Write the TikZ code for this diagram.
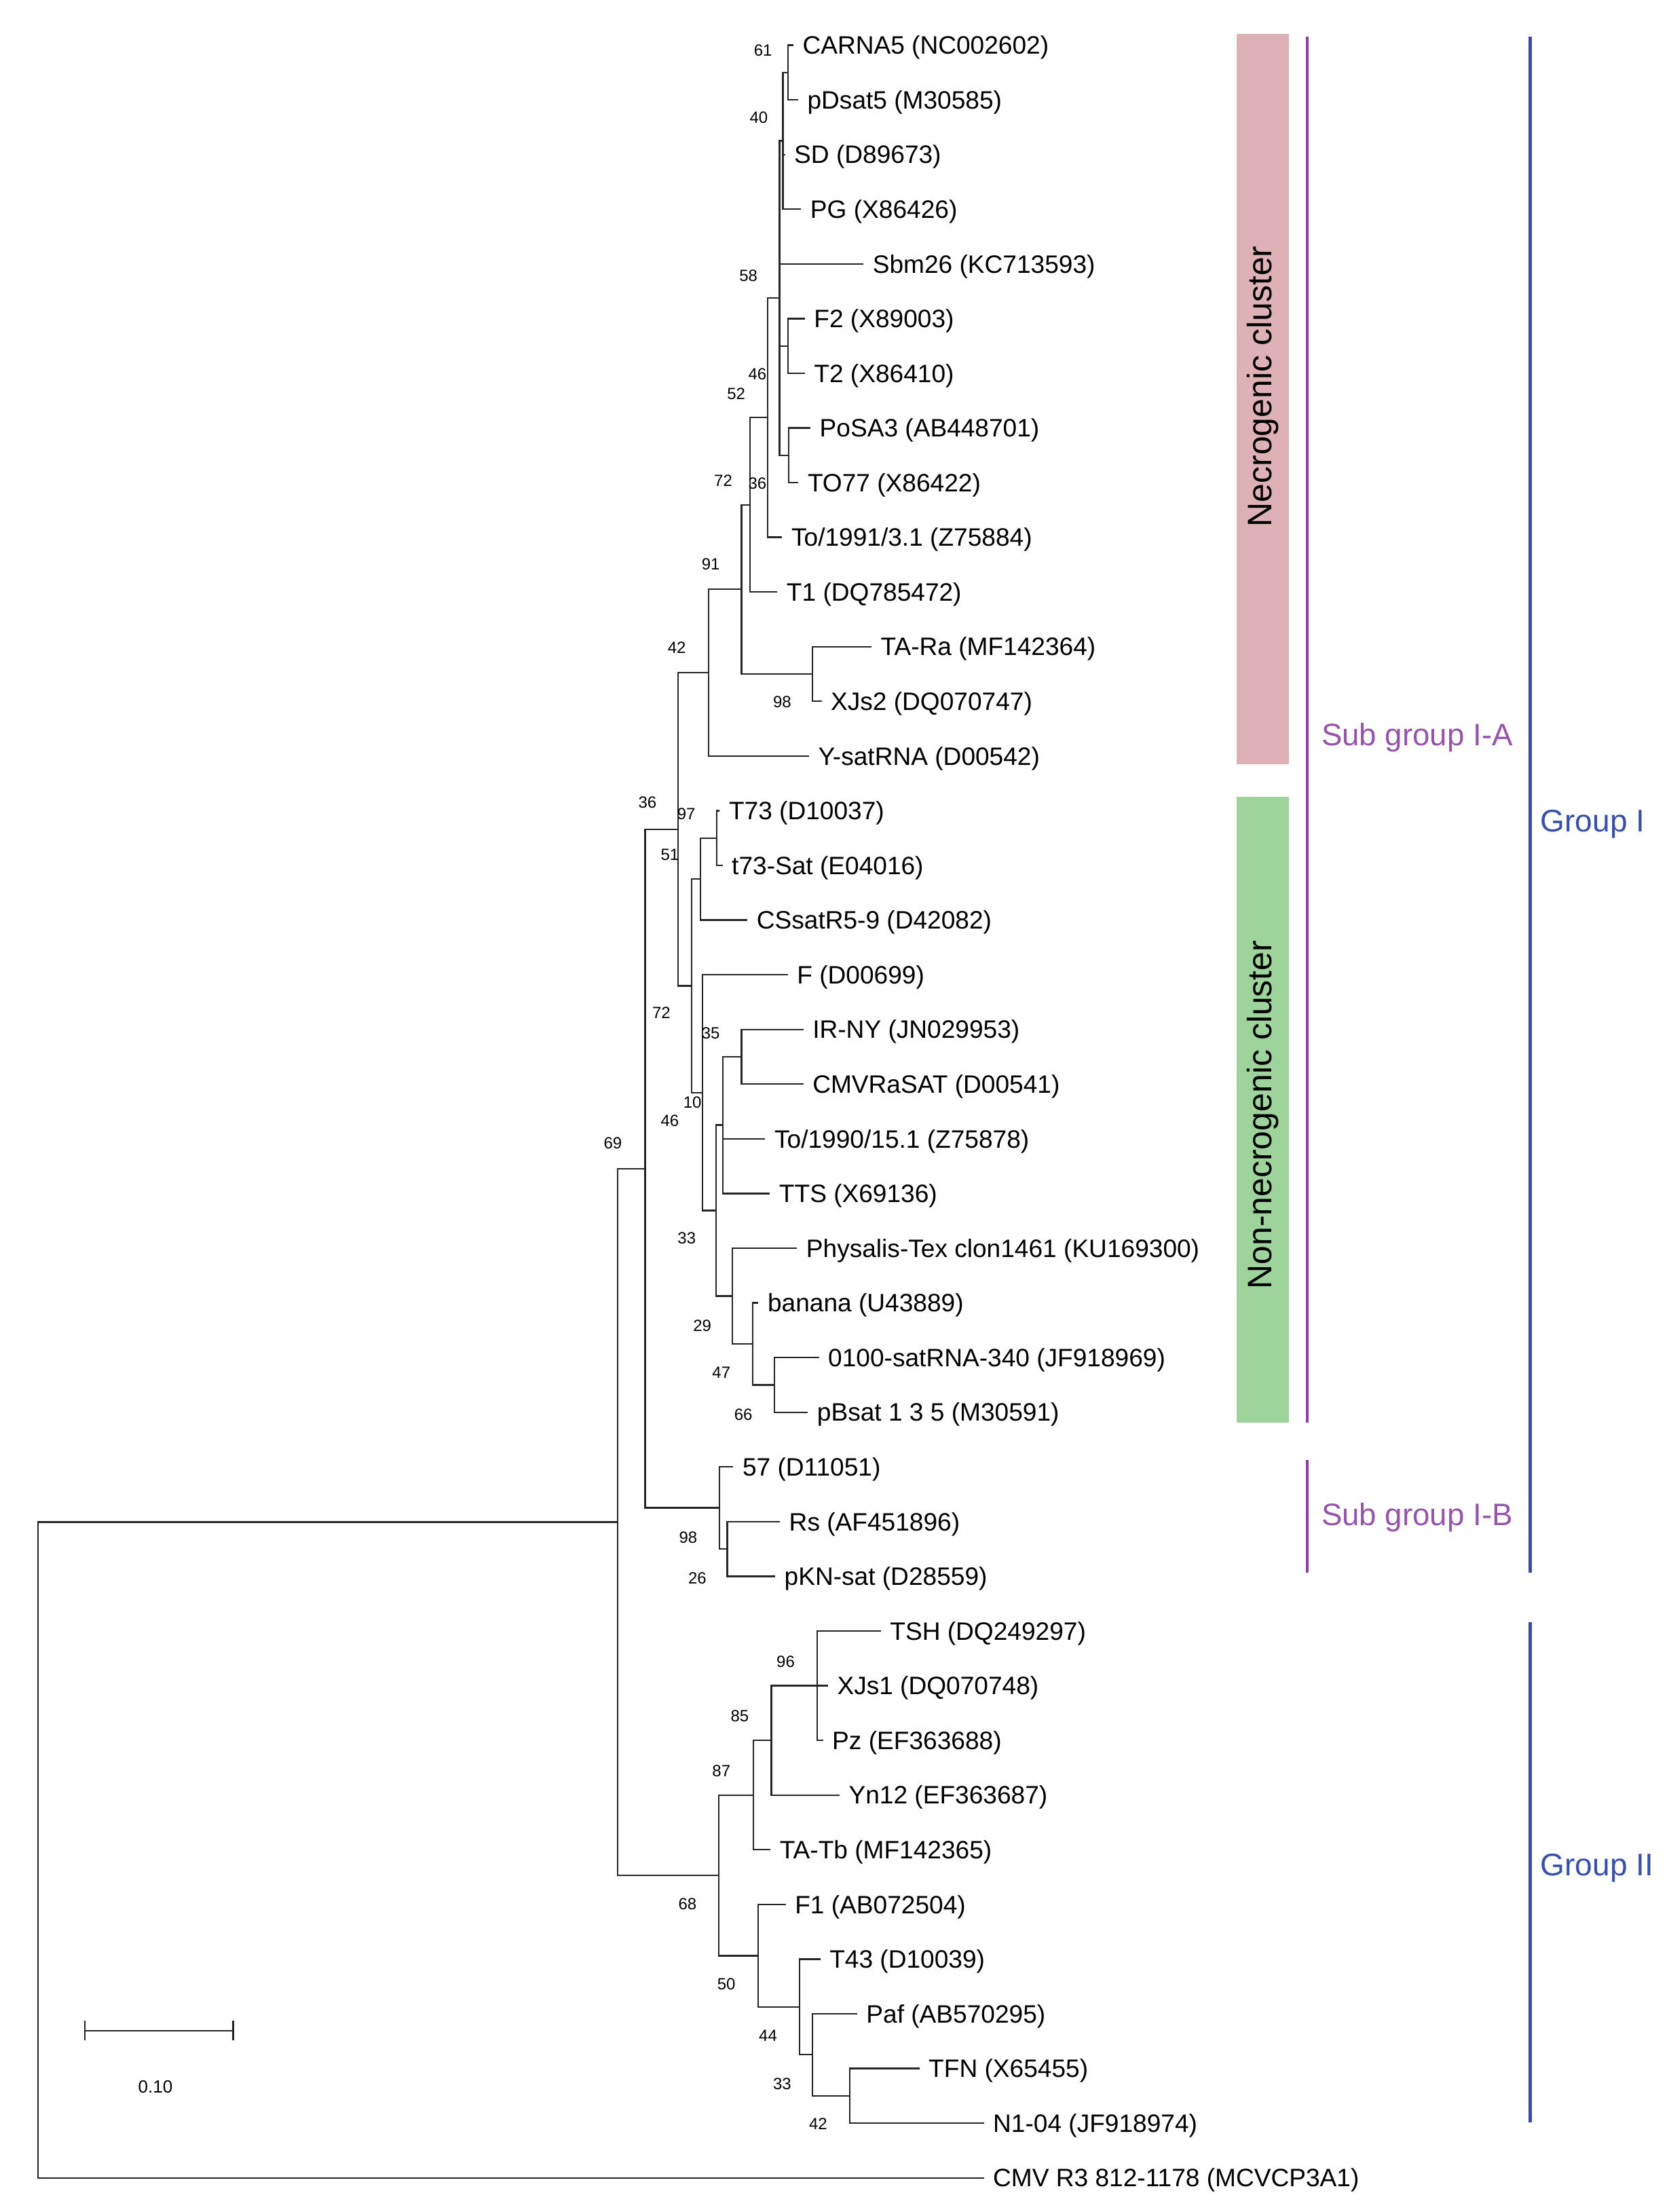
\documentclass[tikz,border=0pt]{standalone}
\usepackage{fontspec}
\setmainfont{Liberation Sans}
\definecolor{necro}{RGB}{222,177,183}
\definecolor{nonnecro}{RGB}{158,211,156}
\definecolor{purpline}{RGB}{137,62,157}
\definecolor{purptext}{RGB}{150,85,170}
\definecolor{blueline}{RGB}{58,76,165}
\definecolor{bluetext}{RGB}{55,80,170}
\begin{document}
\begin{tikzpicture}[x=1.016pt,y=-1.016pt,
  br/.style={line width=1.1pt, draw=black!85, line cap=rect},
  leaf/.style={anchor=west, inner xsep=7pt, inner ysep=0pt, text height=12.9pt, text depth=0pt, font=\fontsize{18.1}{21}\selectfont},
  bs/.style={inner sep=0pt, font=\fontsize{11.7}{13}\selectfont},
  clustertext/.style={rotate=90, inner sep=0pt, font=\fontsize{24.4}{27}\selectfont},
  subline/.style={line width=2.2pt, draw=purpline},
  grpline/.style={line width=2.2pt, draw=blueline},
  subtext/.style={anchor=west, inner sep=0pt, text=purptext, font=\fontsize{22.3}{25}\selectfont},
  grptext/.style={anchor=west, inner sep=0pt, text=bluetext, font=\fontsize{22.5}{25}\selectfont}]
\useasboundingbox (0,0) rectangle (1181.1,1565.4);

% ---- coloured cluster boxes ----
\fill[necro] (875,24) rectangle (912,541);
\fill[nonnecro] (875,564) rectangle (912,1007);
\node[clustertext] (necrotxt) at (893.5,273.5) {Necrogenic cluster};
\node[clustertext] (nonnecrotxt) at (893.5,789) {Non-necrogenic cluster};

% ---- group brackets ----
\coordinate (sa1) at (925,26);   \coordinate (sa2) at (925,1007);
\coordinate (sb1) at (925,1033); \coordinate (sb2) at (925,1113);
\coordinate (g11) at (1083,26);  \coordinate (g12) at (1083,1113);
\coordinate (g21) at (1083,1148);\coordinate (g22) at (1083,1502);
\draw[subline] (sa1) -- (sa2);
\draw[subline] (sb1) -- (sb2);
\draw[grpline] (g11) -- (g12);
\draw[grpline] (g21) -- (g22);
\node[subtext] (subA) at (935,522) {Sub group I-A};
\node[subtext] (subB) at (935,1074) {Sub group I-B};
\node[grptext] (grpI) at (1090,583) {Group I};
\node[grptext] (grpII) at (1090,1322) {Group II};

% ---- leaves ----
\node[leaf] (L0) at (560.9,32.0) {CARNA5 (NC002602)};
\node[leaf] (L1) at (564.3,70.7) {pDsat5 (M30585)};
\node[leaf] (L2) at (555,109.4) {SD (D89673)};
\node[leaf] (L3) at (566.4,148.1) {PG (X86426)};
\node[leaf] (L4) at (610.5,186.8) {Sbm26 (KC713593)};
\node[leaf] (L5) at (569,225.5) {F2 (X89003)};
\node[leaf] (L6) at (569,264.1) {T2 (X86410)};
\node[leaf] (L7) at (573,302.8) {PoSA3 (AB448701)};
\node[leaf] (L8) at (564.5,341.5) {TO77 (X86422)};
\node[leaf] (L9) at (553,380.2) {To/1991/3.1 (Z75884)};
\node[leaf] (L10) at (549.6,418.9) {T1 (DQ785472)};
\node[leaf] (L11) at (616.2,457.6) {TA-Ra (MF142364)};
\node[leaf] (L12) at (580.9,496.3) {XJs2 (DQ070747)};
\node[leaf] (L13) at (572,535) {Y-satRNA (D00542)};
\node[leaf] (L14) at (508.8,573.7) {T73 (D10037)};
\node[leaf] (L15) at (510.8,612.4) {t73-Sat (E04016)};
\node[leaf] (L16) at (528.4,651.1) {CSsatR5-9 (D42082)};
\node[leaf] (L17) at (557,689.8) {F (D00699)};
\node[leaf] (L18) at (568,728.5) {IR-NY (JN029953)};
\node[leaf] (L19) at (568,767.2) {CMVRaSAT (D00541)};
\node[leaf] (L20) at (541,805.9) {To/1990/15.1 (Z75878)};
\node[leaf] (L21) at (544.3,844.6) {TTS (X69136)};
\node[leaf] (L22) at (563.5,883.3) {Physalis-Tex clon1461 (KU169300)};
\node[leaf] (L23) at (536.2,922) {banana (U43889)};
\node[leaf] (L24) at (579,960.7) {0100-satRNA-340 (JF918969)};
\node[leaf] (L25) at (571.2,999.4) {pBsat 1 3 5 (M30591)};
\node[leaf] (L26) at (518.4,1038.1) {57 (D11051)};
\node[leaf] (L27) at (551.4,1076.8) {Rs (AF451896)};
\node[leaf] (L28) at (548,1115.5) {pKN-sat (D28559)};
\node[leaf] (L29) at (622.8,1154.2) {TSH (DQ249297)};
\node[leaf] (L30) at (585.4,1192.9) {XJs1 (DQ070748)};
\node[leaf] (L31) at (581.9,1231.6) {Pz (EF363688)};
\node[leaf] (L32) at (593.6,1270.3) {Yn12 (EF363687)};
\node[leaf] (L33) at (544.7,1309) {TA-Tb (MF142365)};
\node[leaf] (L34) at (555.5,1347.7) {F1 (AB072504)};
\node[leaf] (L35) at (580,1386.4) {T43 (D10039)};
\node[leaf] (L36) at (606,1425.1) {Paf (AB570295)};
\node[leaf] (L37) at (650.1,1463.8) {TFN (X65455)};
\node[leaf] (L38) at (695.7,1502.5) {N1-04 (JF918974)};
\node[leaf] (L39) at (695.7,1541.2) {CMV R3 812-1178 (MCVCP3A1)};

% ---- internal nodes ----
\coordinate (A1) at (557.7,51.35);
\coordinate (A2) at (554,99.7);
\coordinate (FT) at (557.7,244.8);
\coordinate (PT) at (558,322.15);
\coordinate (P58) at (551.6,210.9);
\coordinate (N52) at (543.1,295.55);
\coordinate (N72) at (530.8,357.2);
\coordinate (TX) at (574.9,476.95);
\coordinate (N91) at (524.8,417.1);
\coordinate (N42) at (501.3,476.05);
\coordinate (TT) at (507.3,593.05);
\coordinate (N97) at (495.8,622.1);
\coordinate (IC) at (524.7,747.85);
\coordinate (N35) at (511.7,796.2);
\coordinate (N66) at (548,980.05);
\coordinate (N47) at (532.5,951);
\coordinate (N29) at (518.1,917.15);
\coordinate (N33) at (506.8,856.7);
\coordinate (N10) at (497,773.25);
\coordinate (N51) at (489.4,697.7);
\coordinate (N36) at (480,586.9);
\coordinate (RK) at (514.7,1096.15);
\coordinate (N98) at (509.1,1067.1);
\coordinate (G1) at (456.5,827);
\coordinate (N96) at (578.4,1192.9);
\coordinate (N85) at (545.9,1231.6);
\coordinate (N87) at (533,1270.3);
\coordinate (TN) at (601.2,1483.15);
\coordinate (N33b) at (575,1454.1);
\coordinate (N44) at (565.7,1420.25);
\coordinate (N50) at (536.5,1384);
\coordinate (N68) at (508.7,1327.15);
\coordinate (N69) at (437,1077.1);
\coordinate (R) at (27,1309.15);

% ---- branches ----
\draw[br] (A1) |- (L0.west);  \draw[br] (A1) |- (L1.west);
\draw[br] (A2) |- (A1);  \draw[br] (A2) |- (L2.west);  \draw[br] (A2) |- (L3.west);
\draw[br] (FT) |- (L5.west);  \draw[br] (FT) |- (L6.west);
\draw[br] (PT) |- (L7.west);  \draw[br] (PT) |- (L8.west);
\draw[br] (P58) |- (A2);  \draw[br] (P58) |- (L4.west);
\draw[br] (P58) |- (FT);  \draw[br] (P58) |- (PT);
\draw[br] (N52) |- (P58);  \draw[br] (N52) |- (L9.west);
\draw[br] (N72) |- (N52);  \draw[br] (N72) |- (L10.west);
\draw[br] (TX) |- (L11.west);  \draw[br] (TX) |- (L12.west);
\draw[br] (N91) |- (N72);  \draw[br] (N91) |- (TX);
\draw[br] (N42) |- (N91);  \draw[br] (N42) |- (L13.west);
\draw[br] (TT) |- (L14.west);  \draw[br] (TT) |- (L15.west);
\draw[br] (N97) |- (TT);  \draw[br] (N97) |- (L16.west);
\draw[br] (IC) |- (L18.west);  \draw[br] (IC) |- (L19.west);
\draw[br] (N35) |- (IC);  \draw[br] (N35) |- (L20.west);  \draw[br] (N35) |- (L21.west);
\draw[br] (N66) |- (L24.west);  \draw[br] (N66) |- (L25.west);
\draw[br] (N47) |- (L23.west);  \draw[br] (N47) |- (N66);
\draw[br] (N29) |- (L22.west);  \draw[br] (N29) |- (N47);
\draw[br] (N33) |- (N35);  \draw[br] (N33) |- (N29);
\draw[br] (N10) |- (L17.west);  \draw[br] (N10) |- (N33);
\draw[br] (N51) |- (N97);  \draw[br] (N51) |- (N10);
\draw[br] (N36) |- (N42);  \draw[br] (N36) |- (N51);
\draw[br] (RK) |- (L27.west);  \draw[br] (RK) |- (L28.west);
\draw[br] (N98) |- (L26.west);  \draw[br] (N98) |- (RK);
\draw[br] (G1) |- (N36);  \draw[br] (G1) |- (N98);
\draw[br] (N96) |- (L29.west);  \draw[br] (N96) |- (L30.west);  \draw[br] (N96) |- (L31.west);
\draw[br] (N85) |- (N96);  \draw[br] (N85) |- (L32.west);
\draw[br] (N87) |- (N85);  \draw[br] (N87) |- (L33.west);
\draw[br] (TN) |- (L37.west);  \draw[br] (TN) |- (L38.west);
\draw[br] (N33b) |- (L36.west);  \draw[br] (N33b) |- (TN);
\draw[br] (N44) |- (L35.west);  \draw[br] (N44) |- (N33b);
\draw[br] (N50) |- (L34.west);  \draw[br] (N50) |- (N44);
\draw[br] (N68) |- (N87);  \draw[br] (N68) |- (N50);
\draw[br] (N69) |- (G1);  \draw[br] (N69) |- (N68);
\draw[br] (R) |- (N69);  \draw[br] (R) |- (L39.west);

% ---- bootstrap values ----
\node[bs] (b1) at (540,35.5) {61};
\node[bs] (b2) at (537,83) {40};
\node[bs] (b3) at (529.6,195) {58};
\node[bs] (b4) at (536,265) {46};
\node[bs] (b5) at (521,278.5) {52};
\node[bs] (b6) at (511.8,340) {72};
\node[bs] (b7) at (536,342) {36};
\node[bs] (b8) at (503,399.5) {91};
\node[bs] (b9) at (479,458.5) {42};
\node[bs] (b10) at (553.5,497) {98};
\node[bs] (b11) at (458.2,568) {36};
\node[bs] (b12) at (485.7,576) {97};
\node[bs] (b13) at (474,605) {51};
\node[bs] (b14) at (468,716.5) {72};
\node[bs] (b15) at (503,731) {35};
\node[bs] (b16) at (490,780) {10};
\node[bs] (b17) at (474,793) {46};
\node[bs] (b18) at (433.7,809) {69};
\node[bs] (b19) at (486,876) {33};
\node[bs] (b20) at (497,938) {29};
\node[bs] (b21) at (510.5,971.5) {47};
\node[bs] (b22) at (526,1001) {66};
\node[bs] (b23) at (487,1088) {98};
\node[bs] (b24) at (493.5,1117) {26};
\node[bs] (b25) at (556,1176) {96};
\node[bs] (b26) at (523.5,1214.5) {85};
\node[bs] (b27) at (510.5,1253.5) {87};
\node[bs] (b28) at (486.5,1347.5) {68};
\node[bs] (b29) at (514,1404) {50};
\node[bs] (b30) at (543.5,1440.6) {44};
\node[bs] (b31) at (553.5,1474.5) {33};
\node[bs] (b32) at (579,1503) {42};

% ---- scale bar ----
\coordinate (sbL) at (60,1437);
\coordinate (sbR) at (165,1437);
\draw[br, line cap=butt] (sbL) -- (sbR);
\draw[br, line cap=butt] ([yshift=-7pt]sbL) -- ([yshift=7pt]sbL);
\draw[br, line cap=butt] ([yshift=-7pt]sbR) -- ([yshift=7pt]sbR);
\node[bs, font=\fontsize{12.7}{14}\selectfont] (sbtxt) at (110,1477) {0.10};
\end{tikzpicture}
\end{document}
